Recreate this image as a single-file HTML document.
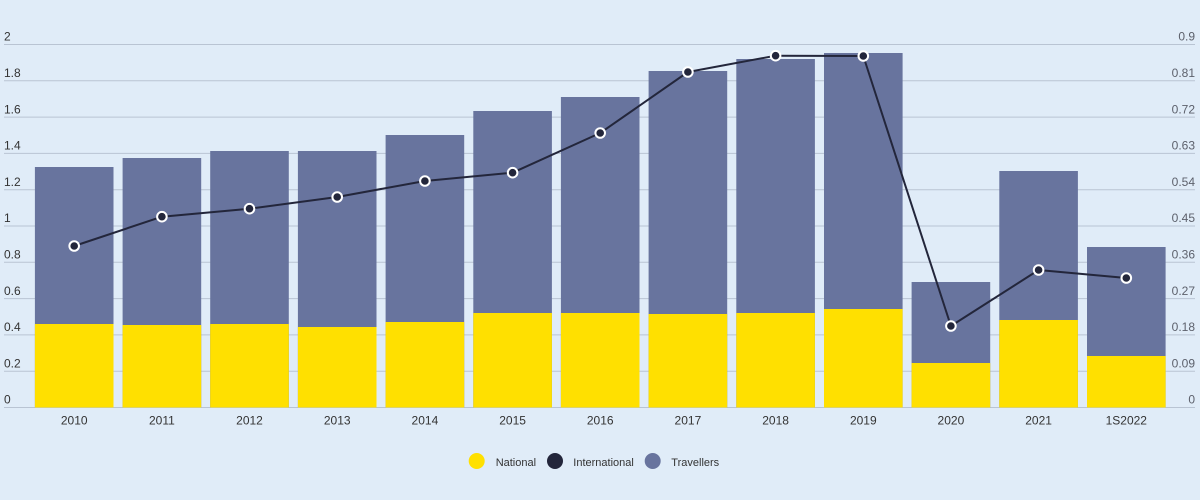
<!DOCTYPE html>
<html>
<head>
<meta charset="utf-8">
<style>
  html, body { margin: 0; padding: 0; background: #e0ecf8; }
  svg { display: block; }
  text { font-family: "Liberation Sans", Arial, sans-serif; }
</style>
</head>
<body>
<svg width="1200" height="500" viewBox="0 0 1200 500" xmlns="http://www.w3.org/2000/svg">
  <rect x="0" y="0" width="1200" height="500" fill="#e0ecf8"/>
  <!-- gridlines -->
  <g stroke="#b9c4d3" stroke-width="1">
    <line x1="4" x2="1195" y1="44.5" y2="44.5"/>
    <line x1="4" x2="1195" y1="80.8" y2="80.8"/>
    <line x1="4" x2="1195" y1="117.1" y2="117.1"/>
    <line x1="4" x2="1195" y1="153.4" y2="153.4"/>
    <line x1="4" x2="1195" y1="189.7" y2="189.7"/>
    <line x1="4" x2="1195" y1="226" y2="226"/>
    <line x1="4" x2="1195" y1="262.3" y2="262.3"/>
    <line x1="4" x2="1195" y1="298.6" y2="298.6"/>
    <line x1="4" x2="1195" y1="334.9" y2="334.9"/>
    <line x1="4" x2="1195" y1="371.2" y2="371.2"/>
    <line x1="4" x2="1195" y1="407.5" y2="407.5"/>
  </g>
  <!-- left axis labels -->
  <g font-size="12" fill="#333" text-anchor="start">
    <text x="4" y="40.7">2</text>
    <text x="4" y="77">1.8</text>
    <text x="4" y="113.3">1.6</text>
    <text x="4" y="149.6">1.4</text>
    <text x="4" y="185.9">1.2</text>
    <text x="4" y="222.2">1</text>
    <text x="4" y="258.5">0.8</text>
    <text x="4" y="294.8">0.6</text>
    <text x="4" y="331.1">0.4</text>
    <text x="4" y="367.4">0.2</text>
    <text x="4" y="403.7">0</text>
  </g>
  <!-- right axis labels -->
  <g font-size="12" fill="#5d616c" text-anchor="end">
    <text x="1195" y="40.7">0.9</text>
    <text x="1195" y="77">0.81</text>
    <text x="1195" y="113.3">0.72</text>
    <text x="1195" y="149.6">0.63</text>
    <text x="1195" y="185.9">0.54</text>
    <text x="1195" y="222.2">0.45</text>
    <text x="1195" y="258.5">0.36</text>
    <text x="1195" y="294.8">0.27</text>
    <text x="1195" y="331.1">0.18</text>
    <text x="1195" y="367.4">0.09</text>
    <text x="1195" y="403.7">0</text>
  </g>
  <!-- bars: travellers (total) -->
  <g fill="#68749e">
    <rect x="34.9" y="167" width="78.6" height="240.5"/>
    <rect x="122.6" y="158" width="78.6" height="249.5"/>
    <rect x="210.2" y="151" width="78.6" height="256.5"/>
    <rect x="297.9" y="151" width="78.6" height="256.5"/>
    <rect x="385.6" y="135" width="78.6" height="272.5"/>
    <rect x="473.3" y="111" width="78.6" height="296.5"/>
    <rect x="560.9" y="97" width="78.6" height="310.5"/>
    <rect x="648.6" y="71" width="78.6" height="336.5"/>
    <rect x="736.3" y="59" width="78.6" height="348.5"/>
    <rect x="824.0" y="53" width="78.6" height="354.5"/>
    <rect x="911.6" y="282" width="78.6" height="125.5"/>
    <rect x="999.3" y="171" width="78.6" height="236.5"/>
    <rect x="1087.0" y="247" width="78.6" height="160.5"/>
  </g>
  <!-- bars: national -->
  <g fill="#ffe000">
    <rect x="34.9" y="324" width="78.6" height="83.5"/>
    <rect x="122.6" y="325" width="78.6" height="82.5"/>
    <rect x="210.2" y="324" width="78.6" height="83.5"/>
    <rect x="297.9" y="327" width="78.6" height="80.5"/>
    <rect x="385.6" y="322" width="78.6" height="85.5"/>
    <rect x="473.3" y="313" width="78.6" height="94.5"/>
    <rect x="560.9" y="313" width="78.6" height="94.5"/>
    <rect x="648.6" y="314" width="78.6" height="93.5"/>
    <rect x="736.3" y="313" width="78.6" height="94.5"/>
    <rect x="824.0" y="309" width="78.6" height="98.5"/>
    <rect x="911.6" y="363" width="78.6" height="44.5"/>
    <rect x="999.3" y="320" width="78.6" height="87.5"/>
    <rect x="1087.0" y="356" width="78.6" height="51.5"/>
  </g>
  <!-- international line -->
  <polyline fill="none" stroke="#23263b" stroke-width="2" stroke-linejoin="round"
    points="74.2,246 161.9,216.7 249.5,208.7 337.2,197 424.9,181 512.6,172.7 600.2,133 687.9,72 775.6,55.7 863.3,56 950.9,326 1038.6,270 1126.3,278"/>
  <g fill="#23263b" stroke="#ffffff" stroke-width="2">
    <circle cx="74.2" cy="246" r="4.8"/>
    <circle cx="161.9" cy="216.7" r="4.8"/>
    <circle cx="249.5" cy="208.7" r="4.8"/>
    <circle cx="337.2" cy="197" r="4.8"/>
    <circle cx="424.9" cy="181" r="4.8"/>
    <circle cx="512.6" cy="172.7" r="4.8"/>
    <circle cx="600.2" cy="133" r="4.8"/>
    <circle cx="687.9" cy="72" r="4.8"/>
    <circle cx="775.6" cy="55.7" r="4.8"/>
    <circle cx="863.3" cy="56" r="4.8"/>
    <circle cx="950.9" cy="326" r="4.8"/>
    <circle cx="1038.6" cy="270" r="4.8"/>
    <circle cx="1126.3" cy="278" r="4.8"/>
  </g>
  <!-- x axis labels -->
  <g font-size="12" fill="#333" text-anchor="middle">
    <text x="74.2" y="424.5">2010</text>
    <text x="161.9" y="424.5">2011</text>
    <text x="249.5" y="424.5">2012</text>
    <text x="337.2" y="424.5">2013</text>
    <text x="424.9" y="424.5">2014</text>
    <text x="512.6" y="424.5">2015</text>
    <text x="600.2" y="424.5">2016</text>
    <text x="687.9" y="424.5">2017</text>
    <text x="775.6" y="424.5">2018</text>
    <text x="863.3" y="424.5">2019</text>
    <text x="950.9" y="424.5">2020</text>
    <text x="1038.6" y="424.5">2021</text>
    <text x="1126.3" y="424.5">1S2022</text>
  </g>
  <!-- legend -->
  <circle cx="476.7" cy="461" r="8" fill="#ffe000"/>
  <text x="495.7" y="466" font-size="11" fill="#333">National</text>
  <circle cx="555" cy="461" r="8" fill="#23263b"/>
  <text x="573.3" y="466" font-size="11" fill="#333">International</text>
  <circle cx="652.7" cy="461" r="8" fill="#68749e"/>
  <text x="671.3" y="466" font-size="11" fill="#333">Travellers</text>
</svg>
</body>
</html>
